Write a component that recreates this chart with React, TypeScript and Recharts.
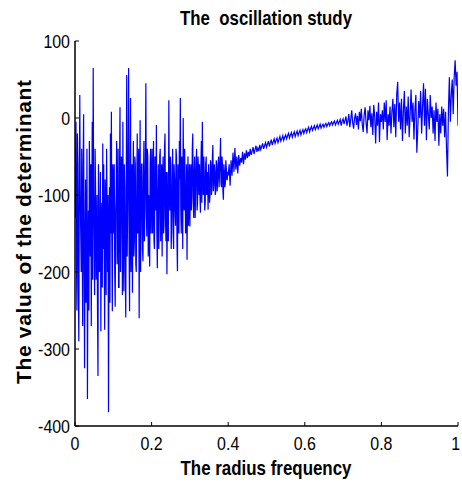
import React from 'react';
import { LineChart, Line, XAxis, YAxis } from 'recharts';

const titleText = 'The  oscillation study';
const xLabelText = 'The radius frequency';
const yLabelText = 'The value of the determinant';

const xTicks = [0, 0.2, 0.4, 0.6, 0.8, 1];
const xTickLabels = ['0', '0.2', '0.4', '0.6', '0.8', '1'];
const yTicks = [-400, -300, -200, -100, 0, 100];
const yTickLabels = ['-400', '-300', '-200', '-100', '0', '100'];

// radius frequency 0 .. 0.4, samples at every 0.0025
const lowBand = [
  -130, -5, -250, -60, -290, 30, -150, -40, -270, 5,
  -325, -80, -200, -365, -120, -30, -180, -270, -5, 65,
  -150, -40, -210, -100, -335, -120, -180, -277, -110, -33,
  -60, -275, -130, -40, -200, -382, -90, -20, 8, -251,
  -150, -60, -245, -100, -190, -40, -220, 14, -130, -70,
  -5, -225, -90, -259, 56, -120, 65, -251, 26, -150,
  -227, -30, -160, -60, -200, -20, -120, -260, -3, -140,
  -60, -186, -30, -120, 45, -154, -50, -100, -193, -40,
  -90, -150, -30, -170, -70, -9, -195, -60, -130, -40,
  -110, -180, -50, -140, -20, -160, -203, -70, 23, -120,
  -60, -130, -40, -170, -80, -140, -50, -199, -100, -30,
  26, -150, -60, 0, -120, -80, -140, -184, -50, -110,
  -141, -60, -100, -20, -130, -50, -90, -40, -110, -70,
  -60, -123, -30, -5, -100, -70, -110, -50, -90, -119,
  -80, -100, -60, -90, -35, -85, -70, -95, -60, -80,
  -50, -70, -26, -90, -60, -106, -70, -85, -65, -80,
  -75,
];

// radius frequency 0.00125 .. 0.39875, the samples half-way between those above
const lowBandHalf = [
  -60, -180, -20, -220, -90, -100, -200, -150, -60, -200,
  -150, -240, -40, -200, -250, -90, -60, -130, -210, -100,
  -230, -90, -160, -250, -60, -200, -70, -150, -220, -170,
  -180, -80, -230, -120, -100, -160, -240, -150, -170, -60,
  -80, -200, -120, -30, -140, -220, -70, -200, -50, -230,
  -160, -60, -200, -100, -180, -40, -170, -80, -200, -60,
  -100, -180, -50, -190, -90, -150, -40, -110, -200, -60,
  -170, -80, -160, -60, -120, -40, -180, -140, -60, -150,
  -40, -110, -160, -50, -120, -150, -100, -170, -50, -160,
  -60, -90, -150, -40, -130, -70, -120, -160, -90, -50,
  -170, -80, -150, -60, -120, -40, -160, -60, -150, -80,
  -120, -50, -170, -90, -40, -150, -60, -100, -140, -60,
  -80, -120, -40, -110, -70, -130, -60, -120, -50, -100,
  -100, -60, -110, -80, -50, -120, -60, -100, -70, -60,
  -110, -55, -100, -50, -95, -60, -100, -55, -95, -60,
  -90, -55, -85, -50, -95, -60, -90, -55, -80, -70,
];

// radius frequency 0.4025 .. 0.8, samples at every 0.0025
const midBand = [
  -60, -88, -55, -75, -45, -70, -39, -67, -50, -72,
  -48, -62, -52, -58, -44, -60, -46, -54, -42, -52,
  -44, -50, -40, -48, -43, -38, -47, -41, -36, -44,
  -39, -43, -35, -41, -37, -33, -40, -36, -32, -38,
  -34, -30, -37, -32, -28, -35, -31, -27, -33, -29,
  -26, -32, -28, -24, -30, -27, -23, -29, -25, -22,
  -27, -23, -20, -26, -22, -19, -25, -21, -18, -24,
  -20, -17, -23, -19, -16, -22, -18, -15, -20, -16,
  -14, -19, -15, -12, -18, -14, -11, -16, -13, -10,
  -15, -12, -9, -14, -11, -8, -13, -10, -8, -12,
  -9, -7, -11, -8, -6, -10, -7, -5, -9, -6,
  -4, -9, -6, -3, -8, -5, -2, -10, -4, -1,
  -8, -3, 2, -10, -4, 5, -12, -2, 10, -6,
  -14, 0, 6, -9, 3, -15, 8, -4, 12, -8,
  -18, 4, 14, -6, -20, 10, -3, 16, -12, 6,
  -22, 17, 2, -33, 8, -10, 20, -31, 5, -5,
];

// radius frequency 0.8025 .. 1, samples at every 0.0025
const highBand = [
  10, -15, 20, -5, 23, -29, 5, -10, 15, -20,
  8, 25, -12, 18, -25, 30, 47, -5, 20, -15,
  25, -30, 10, 35, -20, 15, -10, 28, -25, 5,
  37, -5, 20, -28, 10, 30, -45, -15, 22, 0,
  35, -20, 15, 45, -10, 38, -29, 25, 5, -15,
  30, 0, 15, -20, 10, -30, 20, -5, 12, -36,
  5, -20, 15, -10, 12, -25, 8, -40, -76, 10,
  53, -5, 30, 50, 5, 53, 75, 42, 60, -10,
];

const data: { f: number; det: number }[] = [];
lowBand.forEach((v, i) => {
  data.push({ f: i * 0.0025, det: v });
  if (i < lowBandHalf.length) data.push({ f: i * 0.0025 + 0.00125, det: lowBandHalf[i] });
});
midBand.forEach((v, i) => data.push({ f: 0.4025 + i * 0.0025, det: v }));
highBand.forEach((v, i) => data.push({ f: 0.8025 + i * 0.0025, det: v }));

const FONT = "'Liberation Sans', Arial, sans-serif";
const TICK_FS = 19;
const SQUEEZE = 0.84;
const numWidth = (s: string) =>
  [...s].reduce((a, c) => a + (c === '.' ? 0.278 : c === '-' ? 0.333 : 0.556), 0) * TICK_FS * SQUEEZE;

const xLabelFor = (v: number) => xTickLabels[xTicks.indexOf(v)] ?? String(v);
const yLabelFor = (v: number) => yTickLabels[yTicks.indexOf(v)] ?? String(v);

const BottomTick = (props: any) => {
  const { x, y, payload } = props;
  const s = xLabelFor(payload.value);
  const last = payload.value === xTicks[xTicks.length - 1];
  return (
    <g>
      <line x1={x} x2={x} y1={y} y2={y - 4} stroke="#000" strokeWidth={1} />
      <text x={last ? x + 2 : x} y={y + 24} textAnchor={last ? 'end' : 'middle'} fontSize={TICK_FS}
        fontFamily={FONT} fill="#000" textLength={numWidth(s)} lengthAdjust="spacingAndGlyphs">{s}</text>
    </g>
  );
};

const TopTick = (props: any) => {
  const { x, y } = props;
  return <line x1={x} x2={x} y1={y} y2={y + 4} stroke="#000" strokeWidth={1} />;
};

const LeftTick = (props: any) => {
  const { x, y, payload } = props;
  const s = yLabelFor(payload.value);
  return (
    <g>
      <line x1={x} x2={x + 4} y1={y} y2={y} stroke="#000" strokeWidth={1} />
      <text x={x - 5} y={y + 7} textAnchor="end" fontSize={TICK_FS} fontFamily={FONT} fill="#000"
        textLength={numWidth(s)} lengthAdjust="spacingAndGlyphs">{s}</text>
    </g>
  );
};

const RightTick = (props: any) => {
  const { x, y } = props;
  return <line x1={x - 4} x2={x} y1={y} y2={y} stroke="#000" strokeWidth={1} />;
};

const axisLineStyle = { stroke: '#000', strokeWidth: 1.5 };

export default function App() {
  return (
    <div style={{ position: 'absolute', left: 0, top: 0, width: 462, height: 486, background: '#fff' }}>
      <LineChart width={462} height={486} data={data} margin={{ top: 41, right: 4, bottom: 0, left: 0 }}>
        <XAxis dataKey="f" type="number" domain={[0, 1]} ticks={xTicks} height={60}
          tickSize={0} tickMargin={0} tickLine={false} axisLine={axisLineStyle} tick={<BottomTick />}
          interval={0} allowDataOverflow />
        <XAxis xAxisId="top" orientation="top" dataKey="f" type="number" domain={[0, 1]} ticks={xTicks} height={0}
          tickSize={0} tickMargin={0} tickLine={false} axisLine={axisLineStyle} tick={<TopTick />}
          interval={0} allowDataOverflow />
        <YAxis type="number" domain={[-400, 100]} ticks={yTicks} width={75}
          tickSize={0} tickMargin={0} tickLine={false} axisLine={axisLineStyle} tick={<LeftTick />}
          interval={0} allowDataOverflow />
        <YAxis yAxisId="right" orientation="right" type="number" domain={[-400, 100]} ticks={yTicks} width={0}
          tickSize={0} tickMargin={0} tickLine={false} axisLine={axisLineStyle} tick={<RightTick />}
          interval={0} allowDataOverflow />
        <Line dataKey="det" type="linear" stroke="#0000ff" strokeWidth={1.2} dot={false}
          isAnimationActive={false} />
      </LineChart>
      <svg width={462} height={486} style={{ position: 'absolute', left: 0, top: 0, pointerEvents: 'none' }}>
        <text x={266} y={25} textAnchor="middle" fontSize={21} fontWeight="bold" fontFamily={FONT}
          fill="#000" textLength={172} lengthAdjust="spacingAndGlyphs" style={{ whiteSpace: 'pre' }}>
          {titleText}
        </text>
        <text x={266} y={475} textAnchor="middle" fontSize={21} fontWeight="bold" fontFamily={FONT}
          fill="#000" textLength={171} lengthAdjust="spacingAndGlyphs">
          {xLabelText}
        </text>
        <text transform="translate(31,232) rotate(-90)" textAnchor="middle" fontSize={21} fontWeight="bold"
          fontFamily={FONT} fill="#000" textLength={304} lengthAdjust="spacing">
          {yLabelText}
        </text>
      </svg>
    </div>
  );
}
